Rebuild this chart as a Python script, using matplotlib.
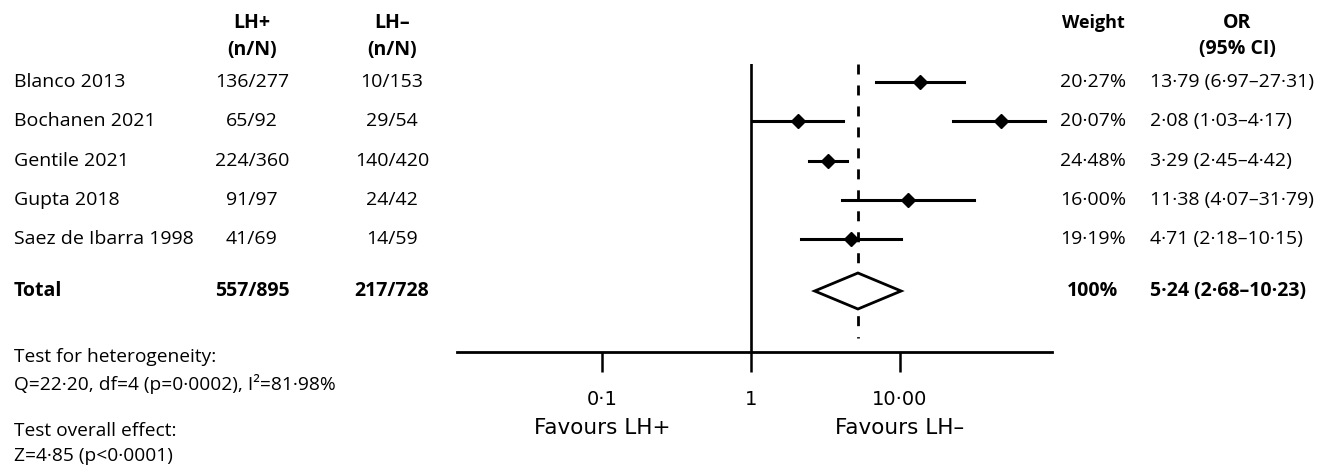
import matplotlib
matplotlib.use("Agg")
import matplotlib.pyplot as plt
import matplotlib.transforms as mtransforms
from matplotlib.patches import Polygon
import numpy as np

plt.rcParams['font.family'] = ['Open Sans', 'DejaVu Sans']
plt.rcParams['lines.scale_dashes'] = False

# data
studies = ['Blanco 2013', 'Bochanen 2021', 'Gentile 2021', 'Gupta 2018', 'Saez de Ibarra 1998']
lh_pos = ['136/277', '65/92', '224/360', '91/97', '41/69']
lh_neg = ['10/153', '29/54', '140/420', '24/42', '14/59']
weights = ['20·27%', '20·07%', '24·48%', '16·00%', '19·19%']
or_est = [13.79, 2.08, 3.29, 11.38, 4.71]
ci_lo = [6.97, 1.03, 2.45, 4.07, 2.18]
ci_hi = [27.31, 4.17, 4.42, 31.79, 10.15]
# second marker drawn on the Bochanen row in the original figure
extra_row = 1
extra_est, extra_lo, extra_hi = 48.0, 23.0, 95.0

total_pos, total_neg, total_weight = '557/895', '217/728', '100%'
total_est, total_lo, total_hi = 5.24, 2.68, 10.23

xticks = [0.1, 1, 10]
xticklabels = ['0·1', '1', '10·00']


def fmt(v):
    return f"{v:.2f}".replace('.', '·')


W, H = 1317, 466
fig = plt.figure(figsize=(W / 100, H / 100), dpi=100)


def fx(px):
    return px / W


def fy(py):
    return 1 - py / H


ax = fig.add_axes([fx(457), fy(352), (1052 - 457) / W, (352 - 64) / H])
ax.set_xscale('log')
ax.set_xlim(0.0105, 106)
row_px = 39.3
ax.set_ylim((352 - 82) / row_px, (64 - 82) / row_px)
total_row = (291 - 82) / row_px
rows = np.arange(len(studies))

# reference lines
ax.axvline(1, color='black', lw=1.9, zorder=1)
ax.plot([total_est, total_est], [(64 - 82) / row_px, (338 - 82) / row_px],
        color='black', lw=2.0, dashes=(7.2, 7.9), zorder=1)

# study CIs and estimates
for r, e, lo, hi in zip(rows, or_est, ci_lo, ci_hi):
    ax.plot([lo, hi], [r, r], color='black', lw=2.2, zorder=2)
    ax.plot(e, r, marker='D', color='black', ms=6.8, zorder=3)
ax.plot([extra_lo, extra_hi], [extra_row, extra_row], color='black', lw=2.2, zorder=2)
ax.plot(extra_est, extra_row, marker='D', color='black', ms=6.8, zorder=3)

# pooled diamond
dh = 18 / row_px
diamond = Polygon([[total_lo, total_row], [total_est, total_row - dh],
                   [total_hi, total_row], [total_est, total_row + dh]],
                  closed=True, facecolor='white', edgecolor='black', lw=2, zorder=4)
ax.add_patch(diamond)

for s in ['top', 'left', 'right']:
    ax.spines[s].set_visible(False)
ax.spines['bottom'].set_linewidth(2)
ax.set_yticks([])
ax.set_xticks(xticks)
ax.set_xticklabels(xticklabels, fontsize=14, family='DejaVu Sans')
ax.minorticks_off()
ax.tick_params(axis='x', direction='out', length=14.4, width=1.8, pad=13)

tr_x = mtransforms.blended_transform_factory(ax.transData, fig.transFigure)
ax.text(0.1, fy(428), 'Favours LH+', transform=tr_x, ha='center', va='center',
        fontsize=15.5, family='DejaVu Sans')
ax.text(10, fy(428), 'Favours LH–', transform=tr_x, ha='center', va='center',
        fontsize=15.5, family='DejaVu Sans')

# table text
tr = mtransforms.blended_transform_factory(fig.transFigure, ax.transData)
fs = 14
for r, name, p, n, w, e, lo, hi in zip(rows, studies, lh_pos, lh_neg, weights, or_est, ci_lo, ci_hi):
    ax.text(fx(14), r, name, transform=tr, ha='left', va='center', fontsize=fs)
    ax.text(fx(252), r, p, transform=tr, ha='center', va='center', fontsize=fs)
    ax.text(fx(392), r, n, transform=tr, ha='center', va='center', fontsize=fs)
    ax.text(fx(1093), r, w, transform=tr, ha='center', va='center', fontsize=fs)
    ax.text(fx(1150), r, f"{fmt(e)} ({fmt(lo)}–{fmt(hi)})", transform=tr,
            ha='left', va='center', fontsize=fs)

ax.text(fx(14), total_row, 'Total', transform=tr, ha='left', va='center', fontsize=fs, weight='bold')
ax.text(fx(252), total_row, total_pos, transform=tr, ha='center', va='center', fontsize=fs, weight='bold')
ax.text(fx(392), total_row, total_neg, transform=tr, ha='center', va='center', fontsize=fs, weight='bold')
ax.text(fx(1093), total_row, total_weight, transform=tr, ha='center', va='center', fontsize=fs, weight='bold')
ax.text(fx(1150), total_row, f"{fmt(total_est)} ({fmt(total_lo)}–{fmt(total_hi)})",
        transform=tr, ha='left', va='center', fontsize=fs, weight='bold')

# headers
fig.text(fx(252), fy(23), 'LH+', ha='center', va='center', fontsize=fs, weight='bold')
fig.text(fx(252), fy(50), '(n/N)', ha='center', va='center', fontsize=fs, weight='bold')
fig.text(fx(392), fy(23), 'LH–', ha='center', va='center', fontsize=fs, weight='bold')
fig.text(fx(392), fy(50), '(n/N)', ha='center', va='center', fontsize=fs, weight='bold')
fig.text(fx(1093), fy(23), 'Weight', ha='center', va='center', fontsize=13, weight='bold')
fig.text(fx(1237), fy(23), 'OR', ha='center', va='center', fontsize=fs, weight='bold')
fig.text(fx(1237), fy(49), '(95% CI)', ha='center', va='center', fontsize=fs, weight='bold')

# test statistics
fs2 = 13.8
fig.text(fx(14), fy(357), 'Test for heterogeneity:', ha='left', va='center', fontsize=fs2)
fig.text(fx(14), fy(384), 'Q=22·20, df=4 (p=0·0002), I²=81·98%', ha='left', va='center', fontsize=fs2)
fig.text(fx(14), fy(431), 'Test overall effect:', ha='left', va='center', fontsize=fs2)
fig.text(fx(14), fy(456), 'Z=4·85 (p<0·0001)', ha='left', va='center', fontsize=fs2)

fig.savefig('out.png', dpi=100)
